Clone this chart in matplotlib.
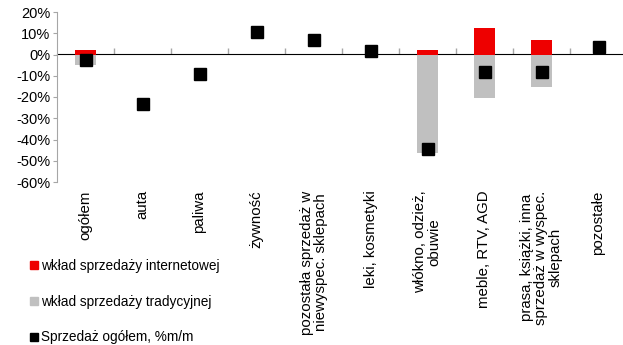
import matplotlib.pyplot as plt
from matplotlib.lines import Line2D
import numpy as np

plt.rcParams['font.family'] = ['Liberation Sans', 'DejaVu Sans']

categories = ['ogółem', 'auta', 'paliwa', 'żywność',
              'pozostała sprzedaż w\nniewyspec. sklepach', 'leki, kosmetyki',
              'włókno, odzież,\nobuwie', 'meble, RTV, AGD',
              'prasa, książki, inna\nsprzedaż w wyspec.\nsklepach', 'pozostałe']
internet = [1.9, 0, 0, 0, 0, 0, 2.3, 12.7, 7.0, 0]
traditional = [-5.0, 0, 0, 0, 0, 0, -46.5, -20.7, -15.5, 0]
total = [-2.8, -23.5, -9.4, 10.8, 7.0, 1.5, -44.5, -8.0, -8.4, 3.3]

labels = ['wkład sprzedaży internetowej', 'wkład sprzedaży tradycyjnej',
          'Sprzedaż ogółem, %m/m']
red = '#EE0000'
grey = '#C0C0C0'
axis_col = '#A6A6A6'

fig = plt.figure(figsize=(6.23, 3.45), dpi=100)
ax = fig.add_axes([57 / 623, 1 - 182 / 345, 570 / 623, 170 / 345])

x = np.arange(len(categories))
ax.bar(x, internet, width=0.38, color=red, zorder=2)
ax.bar(x, traditional, width=0.38, color=grey, zorder=2)
ax.plot(x, total, 's', color='black', markersize=8.6, zorder=3)

ax.set_xlim(-0.5, len(categories) - 0.5)
ax.set_ylim(-60, 20)
ax.set_yticks(np.arange(-60, 21, 10))
ax.set_yticklabels([f'{v}%' for v in range(-60, 21, 10)], fontsize=10.5)
ax.tick_params(axis='y', length=3, color=axis_col, pad=2)

ax.set_xticks(x)
ax.set_xticklabels(categories, rotation=90, va='top', ha='center',
                   fontsize=10.8, linespacing=1.0)
ax.tick_params(axis='x', length=0, pad=6)

for s in ['top', 'right', 'bottom']:
    ax.spines[s].set_visible(False)
ax.spines['left'].set_color(axis_col)

# zero line with category boundary ticks
zero = ax.secondary_xaxis(0.75)
zero.set_xticks(np.arange(0.5, len(categories) - 0.5, 1))
zero.set_xticklabels([])
zero.tick_params(length=4, color=axis_col, width=1)
zero.spines['bottom'].set_color(axis_col)
zero.spines['bottom'].set_linewidth(1.2)

handles = [Line2D([], [], marker='s', color=c, linestyle='none', markersize=5.5)
           for c in [red, grey, 'black']]
fig.legend(handles, labels, loc='upper left', bbox_to_anchor=(24 / 623, 1 - 252 / 345),
           frameon=False, fontsize=9.8, handlelength=0.5, handletextpad=0.25,
           labelspacing=1.6, borderpad=0)

fig.savefig('out.png', dpi=100)
